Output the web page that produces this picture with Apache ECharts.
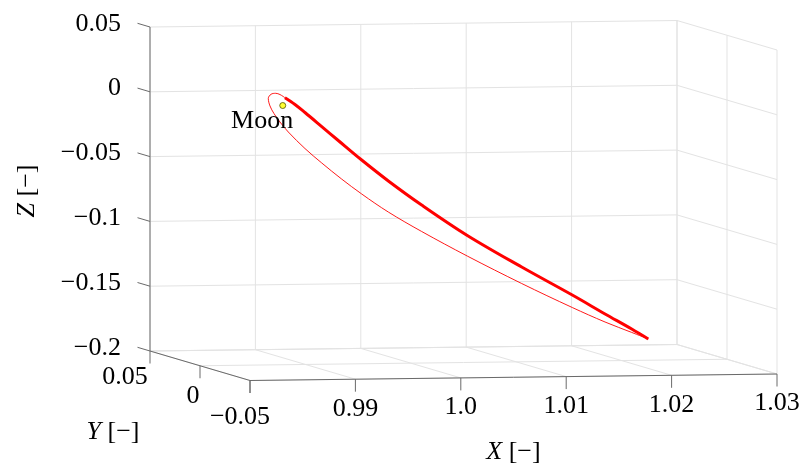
<!DOCTYPE html>
<html>
<head>
<meta charset="utf-8">
<script src="https://cdn.jsdelivr.net/npm/echarts@6/dist/echarts.min.js"></script>
<style>
  html, body { margin: 0; padding: 0; background: #fff; }
  #chart { width: 803px; height: 470px; }
</style>
</head>
<body>
<div id="chart"></div>
<script>
// axis ranges and ticks
var xRange = [0.98, 1.03];
var yRange = [-0.05, 0.05];
var zRange = [-0.2, 0.05];
var xTicks = [0.98, 0.99, 1.00, 1.01, 1.02, 1.03];
var xTickLabels = ['', '0.99', '1.0', '1.01', '1.02', '1.03'];
var yTicks = [0.05, 0, -0.05];
var yTickLabels = ['0.05', '0', '\u22120.05'];
var zTicks = [0.05, 0, -0.05, -0.1, -0.15, -0.2];
var zTickLabels = ['0.05', '0', '\u22120.05', '\u22120.1', '\u22120.15', '\u22120.2'];

// thick arc of the orbit (perilune side -> apolune)
var arcX = [0.98806, 0.98901, 0.98996, 0.99155, 0.99312, 0.99534, 0.99787, 1.00103, 1.00536, 1.01052, 1.01532, 1.01843, 1.02096, 1.02253];
var arcY = [0, 0, 0, 0, 0, 0, 0, 0, 0, 0, 0, 0, 0, 0];
var arcZ = [0.0060, 0.0007, -0.0056, -0.0166, -0.0275, -0.0428, -0.0592, -0.0781, -0.1020, -0.1269, -0.1490, -0.1639, -0.1758, -0.1836];

// thin return branch (apolune -> over perilune -> start of the arc)
var retX = [1.02253, 1.02096, 1.01843, 1.01532, 1.01052, 1.00536, 1.00103, 0.99787, 0.99534, 0.99344, 0.99155, 0.98996, 0.98838, 0.98759, 0.98702, 0.98664, 0.98648, 0.98674, 0.98718, 0.98759, 0.98806];
var retY = [0, 0, 0, 0, 0, 0, 0, 0, 0, 0, 0, 0, 0, 0, 0, 0, 0, 0, 0, 0, 0];
var retZ = [-0.1836, -0.1784, -0.1701, -0.1586, -0.1396, -0.1179, -0.0985, -0.0832, -0.0690, -0.0573, -0.0447, -0.0334, -0.0205, -0.0127, -0.0061, -0.0002, 0.0056, 0.0088, 0.0095, 0.0085, 0.0060];

var moonXYZ = [0.98785, 0, 0];
var moonName = 'Moon';

// box in pixels: back-left-bottom corner, then screen span of each axis
var box = { ox: 150, oy: 351, ax: [527, -6.5], ay: [100, 29.5], az: [0, -324] };

function proj(x, y, z) {
  var u = (x - xRange[0]) / (xRange[1] - xRange[0]);
  var v = (yRange[1] - y) / (yRange[1] - yRange[0]);
  var w = (z - zRange[0]) / (zRange[1] - zRange[0]);
  return [box.ox + u * box.ax[0] + v * box.ay[0] + w * box.az[0],
          box.oy + u * box.ax[1] + v * box.ay[1] + w * box.az[1]];
}
function seg(a, b) {
  var p = proj(a[0], a[1], a[2]), q = proj(b[0], b[1], b[2]);
  return [p[0], p[1], q[0], q[1]];
}

var x0 = xRange[0], x1 = xRange[1], y0 = yRange[0], y1 = yRange[1], z0 = zRange[0], z1 = zRange[1];

// grid lines on back wall, right wall and floor
var gridSegs = [];
xTicks.forEach(function (x) { gridSegs.push(seg([x, y1, z0], [x, y1, z1])); });
zTicks.forEach(function (z) { gridSegs.push(seg([x0, y1, z], [x1, y1, z])); });
yTicks.forEach(function (y) { gridSegs.push(seg([x1, y, z0], [x1, y, z1])); });
zTicks.forEach(function (z) { gridSegs.push(seg([x1, y1, z], [x1, y0, z])); });
xTicks.forEach(function (x) { gridSegs.push(seg([x, y1, z0], [x, y0, z0])); });
yTicks.forEach(function (y) { gridSegs.push(seg([x0, y, z0], [x1, y, z0])); });

// axis lines and tick marks
var axisSegs = [
  seg([x0, y0, z0], [x1, y0, z0]),
  seg([x0, y1, z0], [x0, y0, z0]),
  seg([x0, y1, z0], [x0, y1, z1])
];
var xTickPts = xTicks.map(function (x) { return proj(x, y0, z0); });
var yTickPts = yTicks.map(function (y) { return proj(x0, y, z0); });
var zTickPts = zTicks.map(function (z) { return proj(x0, y1, z); });
xTickPts.forEach(function (p) { axisSegs.push([p[0], p[1], p[0], p[1] + 12.5]); });
yTickPts.forEach(function (p) { axisSegs.push([p[0], p[1], p[0], p[1] + 12.5]); });
zTickPts.forEach(function (p) { axisSegs.push([p[0], p[1], p[0] - 12.5, p[1] - 3.7]); });

var FONT = 'Liberation Serif';
var FS = 26;

function segSeries(data, color, width, z) {
  return {
    type: 'custom', silent: true, z: z, data: data,
    encode: { x: [0, 2], y: [1, 3] },
    renderItem: function (params, api) {
      var a = api.coord([api.value(0), api.value(1)]);
      var b = api.coord([api.value(2), api.value(3)]);
      return { type: 'line', shape: { x1: a[0], y1: a[1], x2: b[0], y2: b[1] },
               style: { stroke: color, lineWidth: width } };
    }
  };
}
// dx, dy: pixel offset of the label from its anchor (a number or one per label)
function textSeries(points, texts, dx, dy, align) {
  return {
    type: 'custom', silent: true, z: 5, data: points,
    encode: { x: 0, y: 1 },
    renderItem: function (params, api) {
      var i = params.dataIndex;
      var c = api.coord([api.value(0), api.value(1)]);
      var ox = Array.isArray(dx) ? dx[i] : dx;
      var oy = Array.isArray(dy) ? dy[i] : dy;
      return { type: 'text', x: c[0] + ox, y: c[1] + oy,
               style: { text: texts[i], fontFamily: FONT, fontSize: FS, fill: '#000',
                        align: align, textAlign: align, verticalAlign: 'middle', textVerticalAlign: 'middle' } };
    }
  };
}
function pts(xs, ys, zs) {
  return xs.map(function (x, i) { return proj(x, ys[i], zs[i]); });
}

var moonPt = proj(moonXYZ[0], moonXYZ[1], moonXYZ[2]);

var chart = echarts.init(document.getElementById('chart'));
chart.setOption({
  animation: false,
  backgroundColor: '#fff',
  grid: { left: 0, top: 0, width: 803, height: 470 },
  xAxis: { type: 'value', min: 0, max: 803, show: false },
  yAxis: { type: 'value', min: 0, max: 470, inverse: true, show: false },
  series: [
    segSeries(gridSegs, '#e3e3e3', 1, 1),
    segSeries(axisSegs, '#6a6a6a', 1, 2),
    {
      type: 'line', data: pts(retX, retY, retZ), smooth: 0.35, showSymbol: false, silent: true, z: 3,
      lineStyle: { color: '#ff0000', width: 0.9 }
    },
    {
      type: 'line', data: pts(arcX, arcY, arcZ), smooth: 0.35, showSymbol: false, silent: true, z: 4,
      lineStyle: { color: '#ff0000', width: 3 }
    },
    {
      type: 'scatter', data: [moonPt], symbolSize: 6, silent: true, z: 6,
      itemStyle: { color: '#ffff00', borderColor: '#555500', borderWidth: 1 }
    },
    textSeries([moonPt], [moonName], 10.5, 16, 'right'),
    textSeries(xTickPts, xTickLabels, 0, 29.5, 'center'),
    textSeries(yTickPts, yTickLabels, [-25, -7, -10], [26.5, 30, 37], 'center'),
    textSeries(zTickPts, zTickLabels, -29, -3.3, 'right')
  ],
  graphic: [
    { type: 'text', x: 513.5, y: 452, style: { text: '{i|X} [\u2212]', fontFamily: FONT, fontSize: FS, fill: '#000',
      align: 'center', verticalAlign: 'middle', rich: { i: { fontStyle: 'italic', fontFamily: FONT, fontSize: FS } } } },
    { type: 'text', x: 113, y: 432, style: { text: '{i|Y} [\u2212]', fontFamily: FONT, fontSize: FS, fill: '#000',
      align: 'center', verticalAlign: 'middle', rich: { i: { fontStyle: 'italic', fontFamily: FONT, fontSize: FS } } } },
    { type: 'text', x: 27, y: 191, rotation: Math.PI / 2, style: { text: '{i|Z} [\u2212]', fontFamily: FONT, fontSize: FS, fill: '#000',
      align: 'center', verticalAlign: 'middle', rich: { i: { fontStyle: 'italic', fontFamily: FONT, fontSize: FS } } } }
  ]
});
</script>
</body>
</html>
